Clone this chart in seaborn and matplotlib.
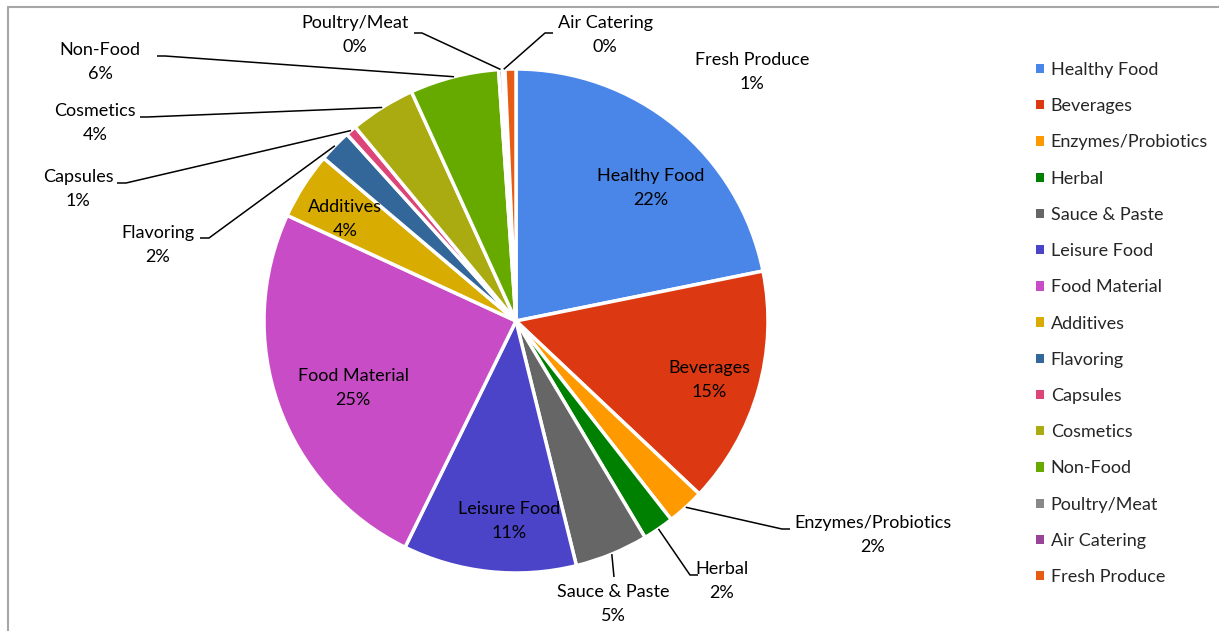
import matplotlib
matplotlib.use("Agg")
import matplotlib.pyplot as plt
from matplotlib.patches import Patch
import numpy as np
import seaborn as sns

categories = ["Healthy Food", "Beverages", "Enzymes/Probiotics", "Herbal",
              "Sauce & Paste", "Leisure Food", "Food Material", "Additives",
              "Flavoring", "Capsules", "Cosmetics", "Non-Food",
              "Poultry/Meat", "Air Catering", "Fresh Produce"]
shares = [21.8, 15.2, 2.4, 2.0, 4.7, 11.1, 24.6, 4.3, 2.1, 0.7, 4.2, 5.7,
          0.25, 0.15, 0.7]
colors = ["#4a86e8", "#dc3912", "#ff9900", "#008000", "#666666", "#4b44c8",
          "#c94cc7", "#d8ac00", "#336699", "#dd4477", "#aaaa11", "#66aa00",
          "#888888", "#994499", "#e65c14"]

# label layout, pixel coords of the text block centre (x, y from top)
label_pos = {
    "Healthy Food": (651, 188), "Beverages": (709, 380),
    "Enzymes/Probiotics": (873, 535), "Herbal": (722, 581),
    "Sauce & Paste": (613, 604), "Leisure Food": (509, 521),
    "Food Material": (353, 388), "Additives": (345, 219),
    "Flavoring": (158, 245), "Capsules": (78, 189), "Cosmetics": (95, 123),
    "Non-Food": (100, 62), "Poultry/Meat": (355, 35),
    "Air Catering": (605, 35), "Fresh Produce": (752, 72),
}
# leader lines: elbow point and end point (pixels)
leaders = {
    "Enzymes/Probiotics": [(782, 529), (790, 529)],
    "Herbal": [(690, 575), (698, 575)],
    "Sauce & Paste": [(614, 577)],
    "Flavoring": [(209, 238), (200, 238)],
    "Capsules": [(126, 183), (117, 183)],
    "Cosmetics": [(147, 117), (140, 117)],
    "Non-Food": [(165, 56), (157, 56)],
    "Poultry/Meat": [(422, 33), (414, 33)],
    "Air Catering": [(545, 33), (553, 33)],
}

W, H = 1219, 631
CX, CY, R = 516, 321, 252

sns.set_style("white")
plt.rcParams["font.family"] = ["Lato", "DejaVu Sans"]

fig = plt.figure(figsize=(W / 100, H / 100), dpi=100)
ax = fig.add_axes([0, 0, 1, 1])


def px(p):
    return ((p[0] - CX) / R, (CY - p[1]) / R)


wedges, _ = ax.pie(shares, colors=colors, startangle=90, counterclock=False,
                   radius=1, center=(0, 0), frame=True,
                   wedgeprops=dict(edgecolor="white", linewidth=2.5))
ax.set_xlim(-CX / R, (W - CX) / R)
ax.set_ylim(-(H - CY) / R, CY / R)
ax.set_aspect("auto")
ax.axis("off")

total = sum(shares)
for w, name, v in zip(wedges, categories, shares):
    x, y = px(label_pos[name])
    ax.text(x, y, f"{name}\n{round(v / total * 100):.0f}%", ha="center",
            va="center", fontsize=13, color="black", linespacing=1.65)
    if name in leaders:
        mid = np.deg2rad((w.theta1 + w.theta2) / 2)
        pts = [(np.cos(mid), np.sin(mid))] + [px(p) for p in leaders[name]]
        xs, ys = zip(*pts)
        ax.plot(xs, ys, color="black", lw=1.1, solid_capstyle="butt")

handles = [Patch(facecolor=c, edgecolor="none") for c in colors]
fig.legend(handles, categories, loc="upper left",
           bbox_to_anchor=(1027 / W, 1 - 53 / H), frameon=False,
           fontsize=13, handlelength=0.42, handleheight=0.42,
           handletextpad=0.4, labelspacing=1.12, borderpad=0)

# chart frame (top and left edges visible)
fig.add_artist(plt.Line2D([8 / W, 1], [1 - 7 / H, 1 - 7 / H], color="#a6a6a6", lw=1.5))
fig.add_artist(plt.Line2D([8 / W, 8 / W], [0, 1 - 7 / H], color="#a6a6a6", lw=1.5))

fig.savefig("out.png", dpi=100)
